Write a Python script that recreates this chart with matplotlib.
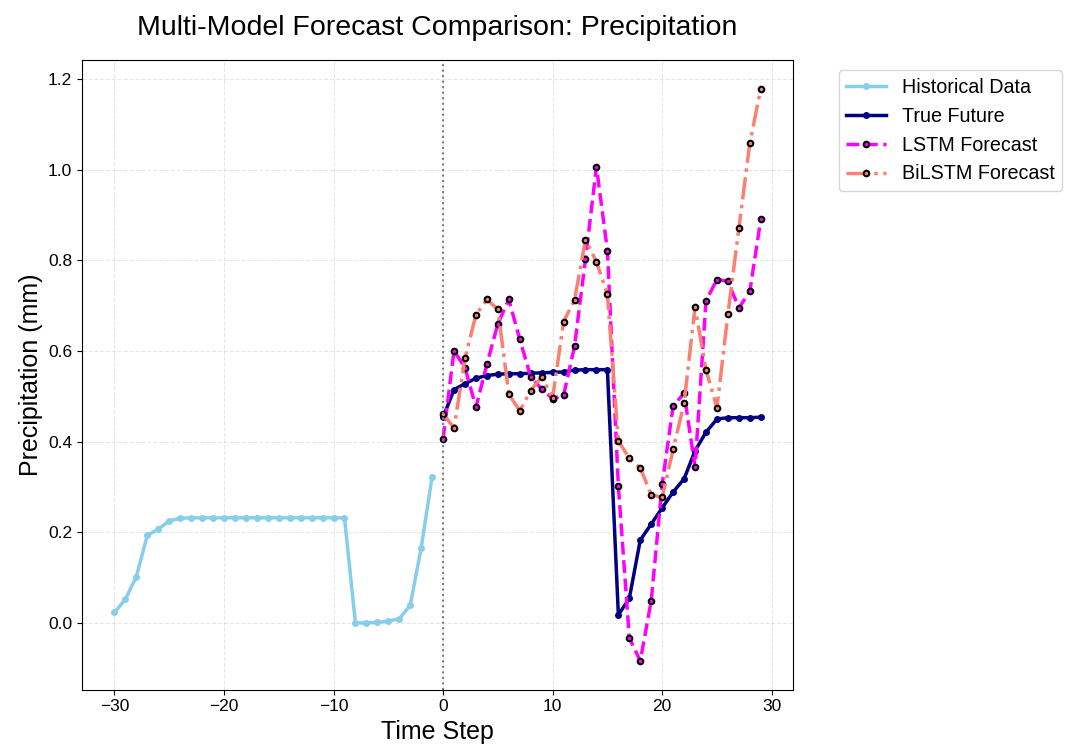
import matplotlib
matplotlib.use('Agg')
import matplotlib.pyplot as plt
import numpy as np

plt.rcParams['font.family'] = ['Liberation Sans', 'DejaVu Sans']

# time steps
hist_x = np.arange(-30, 0)
fut_x = np.arange(0, 30)

historical = [0.023, 0.052, 0.102, 0.193, 0.207, 0.225, 0.231, 0.232, 0.232, 0.232,
              0.232, 0.232, 0.232, 0.232, 0.232, 0.232, 0.232, 0.232, 0.232, 0.232,
              0.232, 0.232, 0.0, 0.0, 0.001, 0.004, 0.009, 0.039, 0.165, 0.323]

true_future = [0.454, 0.515, 0.528, 0.540, 0.546, 0.549, 0.550, 0.550, 0.551, 0.552,
               0.553, 0.554, 0.558, 0.559, 0.559, 0.559, 0.018, 0.054, 0.183, 0.218,
               0.254, 0.289, 0.318, 0.380, 0.421, 0.450, 0.453, 0.453, 0.453, 0.454]

lstm = [0.406, 0.601, 0.563, 0.476, 0.571, 0.660, 0.714, 0.626, 0.543, 0.516,
        0.495, 0.502, 0.611, 0.803, 1.007, 0.822, 0.302, -0.033, -0.084, 0.049,
        0.306, 0.479, 0.507, 0.344, 0.711, 0.758, 0.754, 0.695, 0.732, 0.891]

bilstm = [0.462, 0.430, 0.584, 0.680, 0.714, 0.692, 0.505, 0.468, 0.513, 0.543,
          0.497, 0.665, 0.713, 0.846, 0.797, 0.725, 0.402, 0.363, 0.342, 0.283,
          0.277, 0.383, 0.485, 0.698, 0.558, 0.475, 0.682, 0.871, 1.059, 1.179]

fig, ax = plt.subplots(figsize=(10.66, 7.52), dpi=100)
fig.subplots_adjust(left=0.077, right=0.744, top=0.92, bottom=0.083)

ax.plot(hist_x, historical, color='skyblue', linewidth=2.5, marker='o',
        markersize=4, label='Historical Data')
ax.plot(fut_x, true_future, color='navy', linewidth=2.5, marker='o',
        markersize=4, label='True Future')
ax.plot(fut_x, lstm, color='magenta', linewidth=2.5, linestyle='--', marker='o',
        markersize=4, markeredgecolor='black', markeredgewidth=1.5,
        label='LSTM Forecast')
ax.plot(fut_x, bilstm, color='salmon', linewidth=2.5, linestyle='-.', marker='o',
        markersize=4, markeredgecolor='black', markeredgewidth=1.5,
        label='BiLSTM Forecast')

ax.axvline(0, color='gray', linestyle=':', linewidth=1.5)

ax.set_title('Multi-Model Forecast Comparison: Precipitation', fontsize=20.5, pad=18)
ax.set_xlabel('Time Step', fontsize=18)
ax.set_ylabel('Precipitation (mm)', fontsize=18)
ax.tick_params(labelsize=12.5)
ax.grid(True, linestyle='--', alpha=0.3)
ax.legend(bbox_to_anchor=(1.05, 1), loc='upper left', fontsize=14.2)

fig.savefig('out.png')
